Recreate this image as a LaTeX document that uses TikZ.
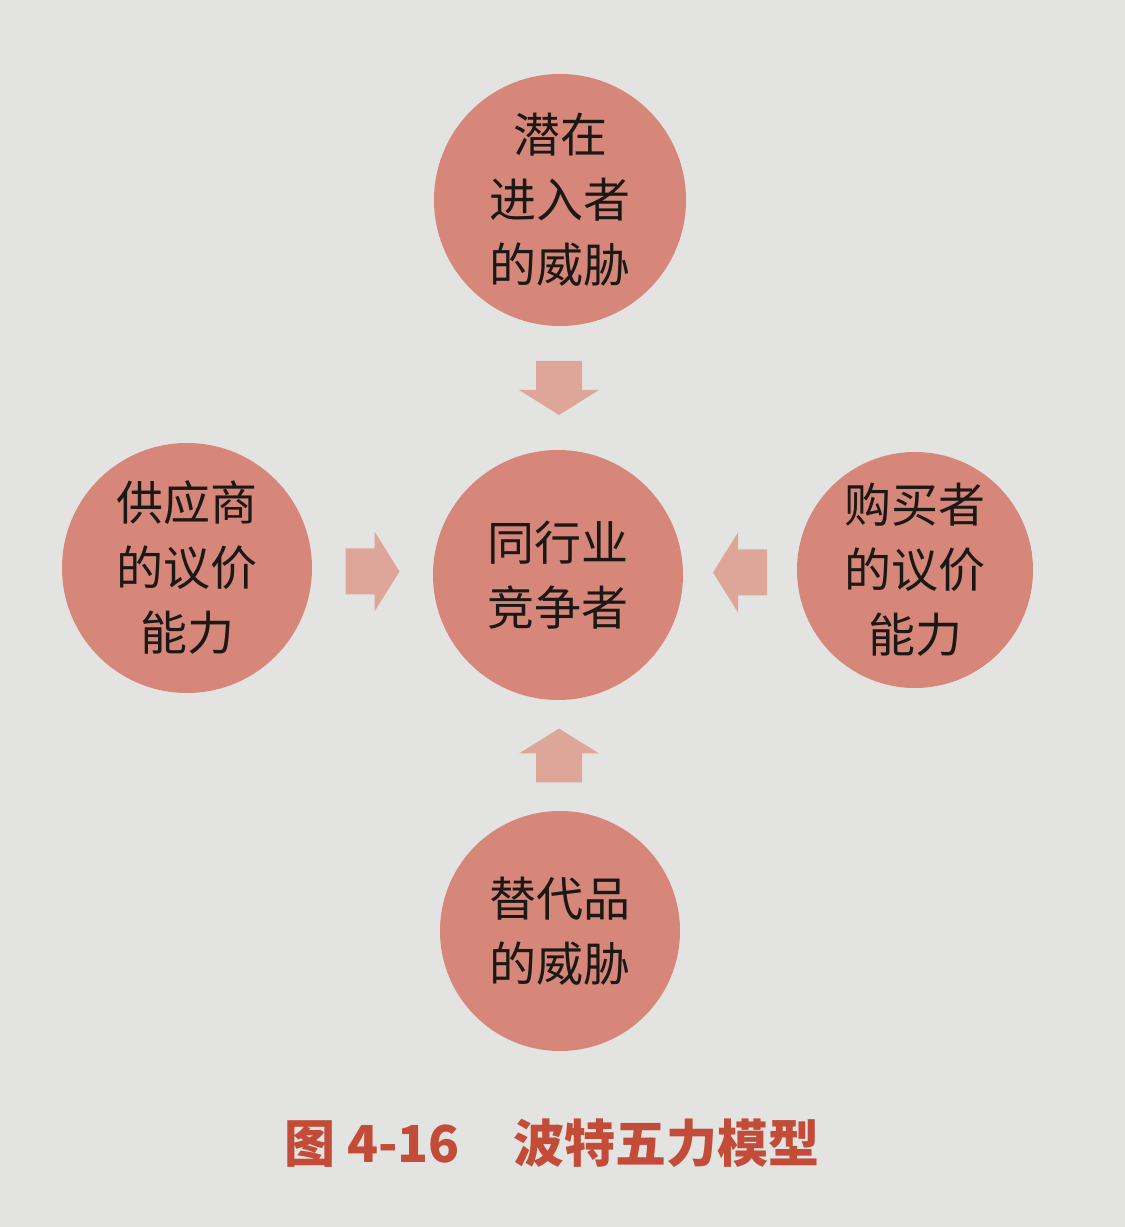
\documentclass[tikz,border=0pt]{standalone}
\usepackage{fontspec}
\newfontfamily\cjk{Noto Sans CJK SC}
\usetikzlibrary{calc}
\definecolor{bgc}{HTML}{E3E3E1}
\definecolor{circc}{HTML}{D6877A}
\definecolor{arrc}{HTML}{DDA699}
\definecolor{txtc}{HTML}{1C1816}
\definecolor{capc}{HTML}{C24C38}
\tikzset{
  force/.style={circle, fill=circc, inner sep=0pt, align=center, text=txtc,
    font=\cjk\fontsize{47}{65}\selectfont},
  pics/blockarrow/.style={code={
    \fill[arrc] (-27,-23) -- (2,-23) -- (2,-40) -- (27,0) -- (2,40) -- (2,23) -- (-27,23) -- cycle;
  }}
}
\begin{document}
\begin{tikzpicture}[x=1pt,y=1pt]
\fill[bgc] (0,0) rectangle (1125,1227);
\useasboundingbox (0,0) rectangle (1125,1227);
\node[force, minimum size=252] (top) at (560,1027) {潜在\\进入者\\的威胁};
\node[force, minimum size=250] (center) at (558,652) {同行业\\竞争者};
\node[force, minimum size=250] (left) at (187,659) {供应商\\的议价\\能力};
\node[force, minimum size=236] (right) at (915,657) {购买者\\的议价\\能力};
\node[force, minimum size=240] (bottom) at (560,296) {替代品\\的威胁};
\path (top) -- (center) coordinate[midway] (m1);
\path (left) -- (center) coordinate[midway] (m2);
\path (right) -- (center) coordinate[midway] (m3);
\path (bottom) -- (center) coordinate[midway] (m4);
\pic[rotate=-90] at (m1) {blockarrow};
\pic at (m2) {blockarrow};
\pic[rotate=180] at (m3) {blockarrow};
\pic[rotate=90] at (m4) {blockarrow};
\node[text=capc, font=\cjk\bfseries\fontsize{51}{55}\selectfont, anchor=west] (caption) at (281,84) {图 4-16\hspace{54pt}波特五力模型};
\end{tikzpicture}
\end{document}
